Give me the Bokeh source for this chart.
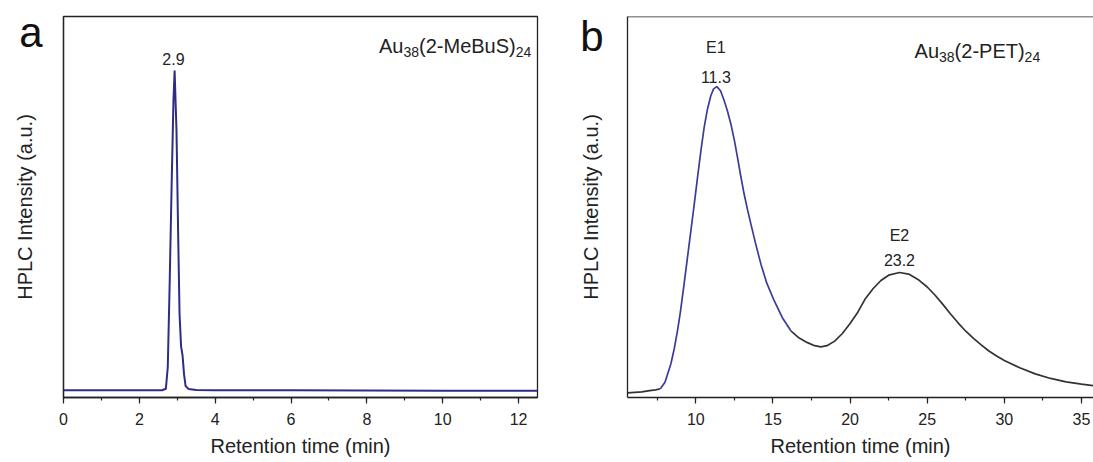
from bokeh.plotting import figure
from bokeh.models import Label, Range1d, SingleIntervalTicker, FixedTicker, Span
from bokeh.layouts import row
from bokeh.embed import file_html
from bokeh.resources import INLINE

# ---------------- data ----------------
# Panel a: Au38(2-MeBuS)24
a_time = [0.0, 1.0, 2.0, 2.6, 2.70, 2.75, 2.80, 2.85, 2.90, 2.93, 2.98, 3.02, 3.06,
          3.10, 3.14, 3.18, 3.22, 3.30, 3.5, 4.0, 6.0, 8.0, 10.0, 12.5]
a_int = [1.9, 1.9, 1.9, 1.9, 2.3, 8.0, 30.0, 55.0, 78.0, 85.8, 70.0, 45.0, 22.0,
         13.5, 11.0, 6.0, 3.0, 2.2, 2.0, 1.9, 1.9, 1.85, 1.8, 1.8]
a_peak_time = 2.9
a_peak_label = "2.9"

# Panel b: Au38(2-PET)24
b_time = [5.57, 6.5, 7.0, 7.4, 7.7, 8.0, 8.38, 8.6, 8.81, 9.0, 9.24, 9.45, 9.68, 9.9,
          10.11, 10.33, 10.54, 10.75, 10.97, 11.15, 11.36, 11.6, 11.84, 12.05, 12.27,
          12.5, 12.7, 12.9, 13.13, 13.35, 13.57, 13.9, 14.22, 14.6, 15.08, 15.6,
          16.16, 16.7, 17.24, 17.7, 18.1, 18.5, 19.0, 19.5, 20.0, 20.5, 21.0, 21.5,
          22.0, 22.5, 23.2, 23.8, 24.4, 25.0, 25.5, 26.0, 26.5, 27.0, 27.5, 28.0,
          28.5, 29.0, 29.5, 30.0, 31.0, 32.0, 33.0, 34.0, 35.0, 35.78]
b_int = [1.2, 1.5, 1.8, 2.0, 2.3, 4.0, 8.8, 12.8, 17.5, 22.5, 29.8, 36.5, 43.8, 50.8,
         57.8, 64.8, 70.9, 75.6, 79.2, 81.0, 81.6, 80.5, 77.9, 75.2, 71.8,
         67.5, 63.0, 58.4, 53.4, 49.3, 45.5, 40.0, 35.0, 30.0, 25.4, 21.0,
         17.5, 15.6, 14.4, 13.6, 13.3, 13.6, 14.8, 16.8, 19.4, 22.4, 26.0, 28.6,
         30.7, 32.1, 32.8, 32.4, 31.0, 29.0, 26.9, 24.5, 22.0, 19.6, 17.4, 15.5,
         13.8, 12.2, 10.9, 9.7, 7.8, 6.2, 5.0, 4.1, 3.5, 3.1]
b_peak_times = [11.3, 23.2]
b_peak_names = ["E1", "E2"]
b_peak_labels = ["11.3", "23.2"]

panel_letters = ["a", "b"]

FONT = "Liberation Sans"
INK = "#222222"


def make_fig(width, xr, ticker_interval, left_border, right_border, outline,
             letter, letter_y, letter_gap, title_standoff):
    p = figure(width=width, height=462, x_range=Range1d(*xr), y_range=Range1d(0, 100),
               output_backend="svg", toolbar_location=None,
               min_border_left=left_border, min_border_right=right_border,
               min_border_top=16, min_border_bottom=65)
    p.grid.visible = False
    p.background_fill_color = "white"
    p.border_fill_color = "white"
    if outline:
        p.outline_line_color = INK
        p.outline_line_width = 1.3
    else:
        p.outline_line_color = None
        p.add_layout(Span(location=100, dimension="width", line_color=INK, line_width=1.3))
    xa = p.xaxis[0]
    xa.ticker = SingleIntervalTicker(interval=ticker_interval, num_minor_ticks=2)
    xa.major_tick_in = 0
    xa.major_tick_out = 6
    xa.minor_tick_in = 0
    xa.minor_tick_out = 3
    xa.axis_line_color = INK
    xa.axis_line_width = 1.3
    xa.major_tick_line_color = INK
    xa.minor_tick_line_color = INK
    xa.major_tick_line_width = 1.2
    xa.minor_tick_line_width = 1.2
    xa.major_label_text_font = FONT
    xa.major_label_text_font_size = "16px"
    xa.major_label_text_color = INK
    xa.major_label_standoff = 9
    xa.axis_label = "Retention time (min)"
    xa.axis_label_text_font = FONT
    xa.axis_label_text_font_size = "20px"
    xa.axis_label_text_font_style = "normal"
    xa.axis_label_text_color = INK
    xa.axis_label_standoff = 7

    # y axis: no ticks; its single tick label carries the panel letter
    ya = p.yaxis[0]
    ya.ticker = FixedTicker(ticks=[letter_y])
    ya.major_label_overrides = {letter_y: letter}
    ya.major_label_text_font = FONT
    ya.major_label_text_font_size = "42px"
    ya.major_label_text_color = "#111111"
    ya.major_label_text_baseline = "alphabetic"
    ya.major_label_standoff = letter_gap
    ya.major_tick_in = 0
    ya.major_tick_out = 0
    ya.minor_tick_in = 0
    ya.minor_tick_out = 0
    ya.major_tick_line_color = None
    ya.axis_line_color = INK
    ya.axis_line_width = 1.3
    ya.axis_label = "HPLC Intensity (a.u.)"
    ya.axis_label_text_font = FONT
    ya.axis_label_text_font_size = "20px"
    ya.axis_label_text_font_style = "normal"
    ya.axis_label_text_color = INK
    ya.axis_label_standoff = title_standoff
    return p


def add_formula(p, x, y, sub1, middle, sub2):
    # "Au" + subscript + middle + subscript, laid out with Arial-compatible metrics
    big, small = 20, 14
    w_au = 1.223 * big
    w_sub = 1.112 * small
    mid_w = sum({"(": .333, ")": .333, "2": .556, "-": .333, "M": .833, "e": .556,
                 "B": .667, "u": .556, "S": .667, "P": .667, "E": .667, "T": .611}[c]
                for c in middle) * big
    pieces = [("Au", 0, 0, big), (sub1, w_au, -6, small),
              (middle, w_au + w_sub, 0, big), (sub2, w_au + w_sub + mid_w, -6, small)]
    for txt, dx, dy, fs in pieces:
        p.add_layout(Label(x=x, y=y, x_offset=dx, y_offset=dy, text=txt,
                           text_font=FONT, text_font_size=f"{fs}px", text_color=INK,
                           text_align="left", text_baseline="middle"))


def add_text(p, x, y, txt, size=16):
    p.add_layout(Label(x=x, y=y, text=txt, text_font=FONT, text_font_size=f"{size}px",
                       text_color=INK, text_align="center", text_baseline="middle"))


# ---------------- panel a ----------------
pa = make_fig(565, (0, 12.5), 2, 63, 28, True, panel_letters[0], 95.9, 21, -20)
pa.line(a_time, a_int, line_color="#2f2c85", line_width=2)
add_text(pa, a_peak_time, 88.9, a_peak_label)
add_formula(pa, 8.32, 92.3, "38", "(2-MeBuS)", "24")

# ---------------- panel b ----------------
pb = make_fig(528, (5.57, 35.78), 5, 62, 0, False, panel_letters[1], 94.8, 24, -25)
lo, hi = 4, 36
pb.line(b_time[:lo + 1], b_int[:lo + 1], line_color="#333333", line_width=1.7)
pb.line(b_time[lo:hi + 1], b_int[lo:hi + 1], line_color="#3c3c98", line_width=1.7)
pb.line(b_time[hi:], b_int[hi:], line_color="#333333", line_width=1.7)
add_text(pb, b_peak_times[0], 91.9, b_peak_names[0])
add_text(pb, b_peak_times[0], 84.2, b_peak_labels[0])
add_text(pb, b_peak_times[1], 42.5, b_peak_names[1])
add_text(pb, b_peak_times[1], 36.2, b_peak_labels[1])
add_formula(pb, 24.18, 91.0, "38", "(2-PET)", "24")

layout = row(pa, pb)
open("out.html", "w").write(file_html(layout, INLINE))
